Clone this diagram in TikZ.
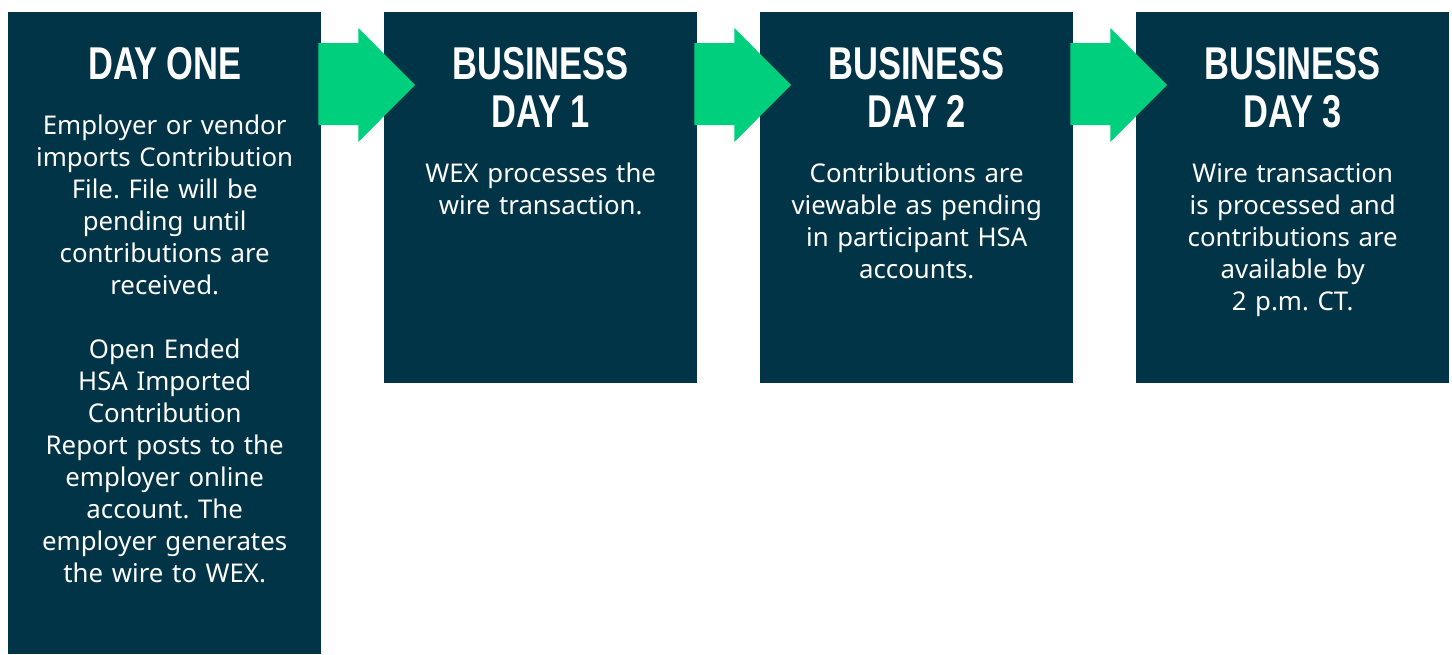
\documentclass[tikz,border=0pt]{standalone}
\usepackage{fontspec}
\setmainfont{Noto Sans}
\newfontfamily\headfont[FakeStretch=0.75]{Liberation Sans}
\usetikzlibrary{positioning,calc}

\definecolor{wexnavy}{HTML}{003446}
\definecolor{wexgreen}{HTML}{00CF7D}

\newcommand{\dayhead}[1]{{\headfont\bfseries\fontsize{46}{48}\selectfont #1\par}\vspace{23pt}}

\begin{document}
\frenchspacing
\begin{tikzpicture}[x=1pt,y=1pt]
    \tikzset{daybox/.style={fill=wexnavy, draw=none, inner sep=0pt, anchor=north west,
        minimum width=313pt},
      daytext/.style={text=white, inner sep=0pt, text width=300pt, align=center,
        font=\fontsize{25.8}{32}\selectfont},
      steparrow/.style={fill=wexgreen}
    }
    \useasboundingbox (0,0) rectangle (1452,-654);

    \node[daybox, minimum height=642pt] (day0) at (8,-12) {};
    \node[daybox, minimum height=371pt] (day1) at (384,-12) {};
    \node[daybox, minimum height=371pt] (day2) at (760,-12) {};
    \node[daybox, minimum height=371pt] (day3) at (1136,-12) {};

    \node[daytext, anchor=north, below=35pt of day0.north] (text0) {\dayhead{DAY ONE}
      Employer or vendor\\ imports Contribution\\ File. File will be\\ pending until\\
      contributions are\\ received.\\[32pt]
      Open Ended\\ HSA Imported\\ Contribution\\ Report posts to the\\ employer online\\
      account. The\\ employer generates\\ the wire to WEX.};
    \node[daytext, anchor=north, below=35pt of day1.north] (text1) {\dayhead{BUSINESS\\ DAY 1}
      WEX processes the\\ wire transaction.};
    \node[daytext, anchor=north, below=35pt of day2.north] (text2) {\dayhead{BUSINESS\\ DAY 2}
      Contributions are\\ viewable as pending\\ in participant HSA\\ accounts.};
    \node[daytext, anchor=north, below=35pt of day3.north] (text3) {\dayhead{BUSINESS\\ DAY 3}
      Wire transaction\\ is processed and\\ contributions are\\ available by\\ 2 p.m. CT.};

    % green arrows between the days
    \foreach \a/\b in {day0/day1, day1/day2, day2/day3}
      \fill[steparrow] ($(\a.north east)+(-3,-31)$) -- ($(\a.north east)+(37,-31)$)
        -- ($(\a.north east)+(37,-16)$) -- ($(\b.north west)+(31,-73)$)
        -- ($(\a.north east)+(37,-130)$) -- ($(\a.north east)+(37,-113)$)
        -- ($(\a.north east)+(-3,-113)$) -- cycle;
\end{tikzpicture}
\end{document}
